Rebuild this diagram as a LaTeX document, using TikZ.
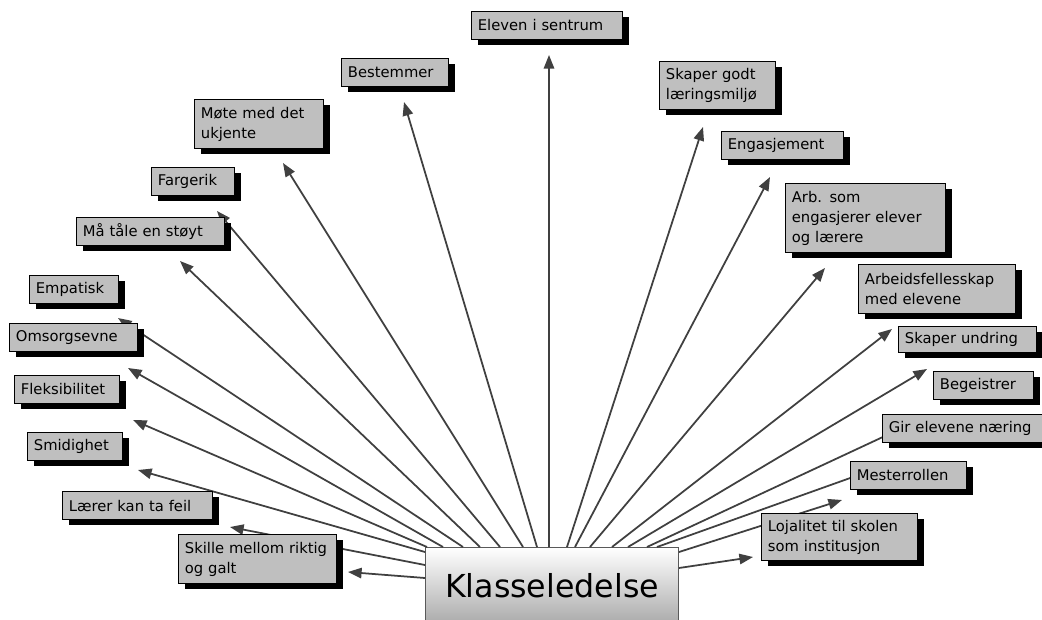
\documentclass[tikz,border=0pt]{standalone}
\usepackage{fontspec}
\setmainfont{DejaVu Sans}
\usepackage{tikz}
\usetikzlibrary{arrows.meta, shadows, calc}

\begin{document}
\begin{tikzpicture}
          [x=0.25mm, y=-0.25mm,
           box/.style={draw=black, line width=0.7pt, fill=black!25, anchor=north west,
             align=left, inner xsep=1.6mm, inner ysep=0.8mm, minimum height=7mm,
             font=\fontsize{10.5}{14.2}\selectfont,
             drop shadow={shadow xshift=1.7mm, shadow yshift=-1.3mm, fill=black, opacity=1}},
           root/.style={draw=black!65, line width=0.7pt, top color=white, bottom color=black!33,
             anchor=north west, minimum width=63.25mm, minimum height=19mm, inner sep=0pt,
             font=\fontsize{22.5}{27}\selectfont},
           pointer/.style={-{Triangle[length=3.4mm, width=2.6mm]}, line width=1.25pt, color=black!75}]
  \path[use as bounding box, fill=white] (0,0) rectangle (1042,620);

  \node[root] (Klasse) at (425,547) {Klasseledelse};

  \coordinate (tEleven) at (549,55);
  \coordinate (tBestemmer) at (404,102);
  \coordinate (tMote) at (283,163);
  \coordinate (tFargerik) at (217,211);
  \coordinate (tTaale) at (180,261);
  \coordinate (tEmpatisk) at (118,318);
  \coordinate (tOmsorg) at (128,368);
  \coordinate (tFleks) at (133,420);
  \coordinate (tSmidig) at (138,470);
  \coordinate (tFeil) at (230,527);
  \coordinate (tSkille) at (348,572);
  \coordinate (tMiljo) at (703,127);
  \coordinate (tEngasj) at (770,177);
  \coordinate (tArb) at (825,268);
  \coordinate (tFellesskap) at (892,329);
  \coordinate (tUndring) at (927,369);
  \coordinate (tBegeistrer) at (915,422);
  \coordinate (tNaering) at (895,462);
  \coordinate (tMester) at (842,500);
  \coordinate (tLojal) at (753,557);

  \draw[pointer] ($(Klasse.north west)+(124,0)$) -- (tEleven);
  \draw[pointer] ($(Klasse.north west)+(112,0)$) -- (tBestemmer);
  \draw[pointer] ($(Klasse.north west)+(98,0)$) -- (tMote);
  \draw[pointer] ($(Klasse.north west)+(75,0)$) -- (tFargerik);
  \draw[pointer] ($(Klasse.north west)+(55,0)$) -- (tTaale);
  \draw[pointer] ($(Klasse.north west)+(38,0)$) -- (tEmpatisk);
  \draw[pointer] ($(Klasse.north west)+(18,0)$) -- (tOmsorg);
  \draw[pointer] ($(Klasse.north west)+(2,0)$) -- (tFleks);
  \draw[pointer] ($(Klasse.north west)+(0,5)$) -- (tSmidig);
  \draw[pointer] ($(Klasse.north west)+(0,18)$) -- (tFeil);
  \draw[pointer] ($(Klasse.north west)+(0,31)$) -- (tSkille);
  \draw[pointer] ($(Klasse.north west)+(142,0)$) -- (tMiljo);
  \draw[pointer] ($(Klasse.north west)+(150,0)$) -- (tEngasj);
  \draw[pointer] ($(Klasse.north west)+(165,0)$) -- (tArb);
  \draw[pointer] ($(Klasse.north west)+(187,0)$) -- (tFellesskap);
  \draw[pointer] ($(Klasse.north west)+(203,0)$) -- (tUndring);
  \draw[pointer] ($(Klasse.north west)+(222,0)$) -- (tBegeistrer);
  \draw[pointer] ($(Klasse.north west)+(232,0)$) -- (tNaering);
  \draw[pointer] ($(Klasse.north east)+(0,5)$) -- (tMester);
  \draw[pointer] ($(Klasse.north east)+(0,21)$) -- (tLojal);

  \node[box, text width=34.55mm] (Eleven) at (471,11) {Eleven i sentrum};
  \node[box, text width=23.55mm] (Bestemmer) at (341,58) {Bestemmer};
  \node[box, text width=29.05mm, minimum height=12.25mm] (Mote) at (194,99) {Møte med det\\ukjente};
  \node[box, text width=17.55mm] (Fargerik) at (151,167) {Fargerik};
  \node[box, text width=33.8mm] (Taale) at (76,217) {Må tåle en støyt};
  \node[box, text width=19.05mm] (Empatisk) at (29,275) {Empatisk};
  \node[box, text width=28.8mm] (Omsorg) at (9,323) {Omsorgsevne};
  \node[box, text width=23.05mm] (Fleks) at (14,375) {Fleksibilitet};
  \node[box, text width=20.55mm] (Smidig) at (27,432) {Smidighet};
  \node[box, text width=34.3mm] (Feil) at (62,491) {Lærer kan ta feil};
  \node[box, text width=36.3mm, minimum height=12.25mm] (Skille) at (178,534) {Skille mellom riktig\\og galt};
  \node[box, text width=25.8mm, minimum height=12mm] (Miljo) at (659,61) {Skaper godt\\læringsmiljø};
  \node[box, text width=27.3mm] (Engasj) at (721,131) {Engasjement};
  \node[box, text width=36.8mm, minimum height=17.25mm] (Arb) at (785,183) {Arb. som\\engasjerer elever\\og lærere};
  \node[box, text width=36.05mm, minimum height=12.25mm] (Fellesskap) at (858,264) {Arbeidsfellesskap\\med elevene};
  \node[box, text width=31.3mm, minimum height=6.5mm] (Undring) at (898,326) {Skaper undring};
  \node[box, text width=21.8mm] (Begeistrer) at (933,371) {Begeistrer};
  \node[box, text width=39.3mm] (Naering) at (882,414) {Gir elevene næring};
  \node[box, text width=25.8mm] (Mester) at (850,461) {Mesterrollen};
  \node[box, text width=35.8mm, minimum height=11.75mm] (Lojal) at (761,513) {Lojalitet til skolen\\som institusjon};
\end{tikzpicture}
\end{document}
